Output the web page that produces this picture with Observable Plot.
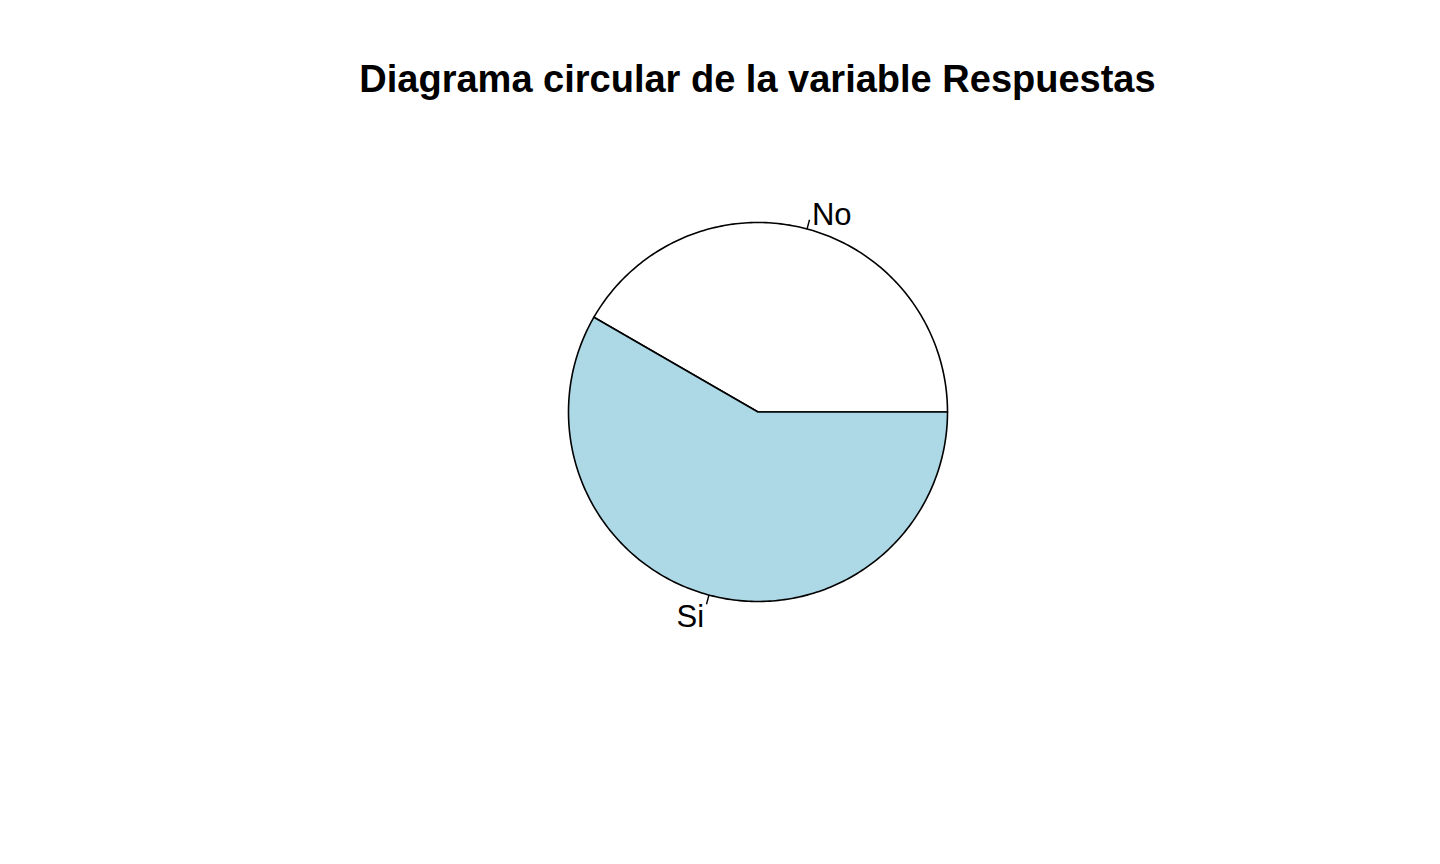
<!DOCTYPE html>
<html>
<head>
<meta charset="utf-8">
<script src="https://cdn.jsdelivr.net/npm/d3@7"></script>
<script src="https://cdn.jsdelivr.net/npm/@observablehq/plot@0.6"></script>
<style>
  html, body { margin: 0; padding: 0; background: #fff; }
  #title {
    height: 130px; box-sizing: border-box; padding-top: 60px;
    width: 1515px; text-align: center;
    font-family: "Liberation Sans", Arial, sans-serif; font-weight: bold;
    font-size: 38px; line-height: 38px; color: #000; white-space: nowrap;
  }
  #chart svg { display: block; }
</style>
</head>
<body>
<div id="title"></div>
<div id="chart"></div>
<script>
// ---- data ----
const categories = ["No", "Si"];
const counts = [5, 7];
const sliceColors = ["#FFFFFF", "#ADD8E6"];
const chartTitle = "Diagrama circular de la variable Respuestas";
document.getElementById("title").textContent = chartTitle;

// ---- layout (pixels) ----
const W = 1440, H = 734;
const R = 189.5, cx = 757.5, cy = 281.5;

// ---- geometry in data units (unit radius) ----
const total = d3.sum(counts);
const polys = [];
const ticks = [];
const labels = [];
let start = 0;
categories.forEach((c, i) => {
  const span = counts[i] / total * 2 * Math.PI;
  const end = start + span;
  const n = Math.max(2, Math.floor(400 * counts[i] / total));
  polys.push({cat: c, x: 0, y: 0, k: -1});
  for (let j = 0; j <= n; j++) {
    const a = start + span * j / n;
    polys.push({cat: c, x: Math.cos(a), y: Math.sin(a), k: j});
  }
  polys.push({cat: c, x: 0, y: 0, k: n + 1});
  const mid = (start + end) / 2;
  ticks.push({cat: c, x1: Math.cos(mid), y1: Math.sin(mid), x2: 1.05 * Math.cos(mid), y2: 1.05 * Math.sin(mid)});
  labels.push({cat: c, x: 1.1 * Math.cos(mid), y: 1.1 * Math.sin(mid), right: Math.cos(mid) >= 0});
  start = end;
});

const plot = Plot.plot({
  width: W, height: H,
  margin: 0,
  x: {domain: [-cx / R, (W - cx) / R], axis: null},
  y: {domain: [-(H - cy) / R, cy / R], axis: null},
  color: {type: "ordinal", domain: categories, range: sliceColors},
  style: {fontFamily: "'Liberation Sans', Arial, sans-serif", background: "#fff"},
  marks: [
    Plot.line(polys, {x: "x", y: "y", z: "cat", fill: "cat", stroke: "#000", strokeWidth: 1.6, curve: "linear"}),
    Plot.link(ticks, {x1: "x1", y1: "y1", x2: "x2", y2: "y2", stroke: "#000", strokeWidth: 1.4}),
    Plot.text(labels.filter(d => d.right), {x: "x", y: "y", text: "cat", textAnchor: "start", fontSize: 31, fill: "#000", dy: 4}),
    Plot.text(labels.filter(d => !d.right), {x: "x", y: "y", text: "cat", textAnchor: "end", fontSize: 31, fill: "#000", dy: 4})
  ]
});
document.getElementById("chart").appendChild(plot);
</script>
</body>
</html>
